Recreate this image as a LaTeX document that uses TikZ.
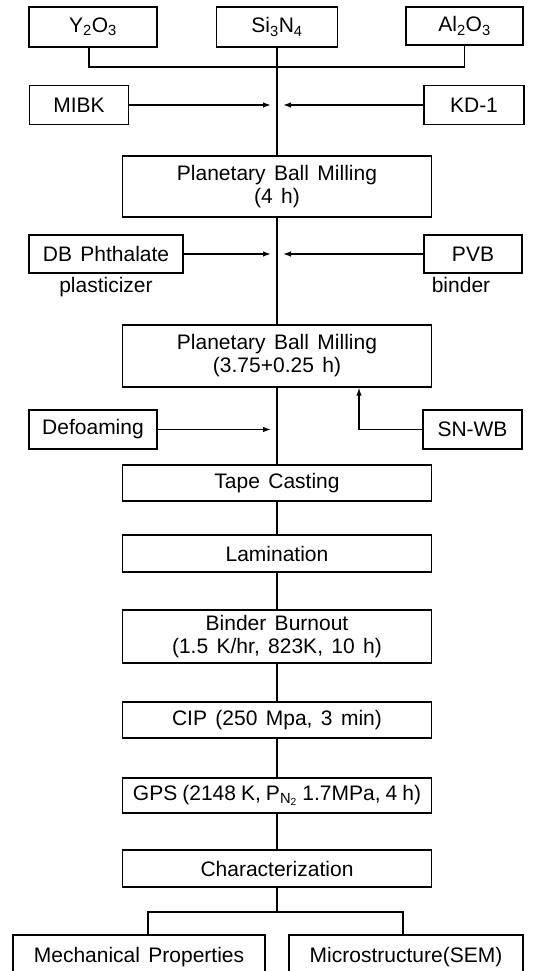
\documentclass[tikz,border=0pt]{standalone}
\usepackage{fontspec}
\setmainfont{Liberation Sans}
\usetikzlibrary{arrows.meta}

\newcommand{\boxfont}{\fontsize{21}{23}\selectfont\spaceskip=0.4em\relax}

\tikzset{
  stepbox/.style={draw, line width=1.3pt, inner sep=0pt, align=center, font=\boxfont},
  note/.style={font=\boxfont},
  link/.style={line width=1.3pt},
  arr/.style={link, -{Latex[length=8pt,width=5.5pt]}},
}

\begin{document}
\begin{tikzpicture}[x=1pt,y=-1pt]
            \path[use as bounding box] (0,0) rectangle (559,971);
            \clip (0,0) rectangle (559,971);

            % Define nodes
            \node[stepbox, minimum width=128pt, minimum height=40pt] (y2o3) at (93,27) {Y\textsubscript{2}O\textsubscript{3}};
            \node[stepbox, minimum width=121pt, minimum height=40pt] (si3n4) at (277,27) {Si\textsubscript{3}N\textsubscript{4}};
            \node[stepbox, minimum width=117pt, minimum height=38pt] (al2o3) at (464.5,26) {Al\textsubscript{2}O\textsubscript{3}};
            \node[stepbox, minimum width=99pt, minimum height=39pt] (mibk) at (79,105) {MIBK};
            \node[stepbox, minimum width=100pt, minimum height=39pt] (kd1) at (474,105) {KD-1};
            \node[stepbox, minimum width=309pt, minimum height=61pt] (pbm1) at (277,186.5) {Planetary Ball Milling\\(4 h)};
            \node[stepbox, minimum width=154pt, minimum height=38pt,
                  label={[note]below:plasticizer}] (dbp) at (106,254) {DB Phthalate};
            \node[stepbox, minimum width=98pt, minimum height=38pt,
                  label={[note, xshift=-12pt]below:binder}] (pvb) at (473,254) {PVB};
            \node[stepbox, minimum width=309pt, minimum height=62pt] (pbm2) at (277,356) {Planetary Ball Milling\\(3.75+0.25 h)};
            \node[stepbox, minimum width=128pt, minimum height=39pt] (defo) at (93,429.5) {Defoaming};
            \node[stepbox, minimum width=99pt, minimum height=39pt] (snwb) at (472.5,429.5) {SN-WB};
            \node[stepbox, minimum width=309pt, minimum height=36pt] (tape) at (277,483) {Tape Casting};
            \node[stepbox, minimum width=309pt, minimum height=37pt] (lam) at (277,553.5) {Lamination};
            \node[stepbox, minimum width=309pt, minimum height=53pt] (burn) at (277,636.5) {Binder Burnout\\(1.5 K/hr, 823K, 10 h)};
            \node[stepbox, minimum width=309pt, minimum height=36pt] (cip) at (277,720) {CIP (250 Mpa, 3 min)};
            \node[stepbox, minimum width=309pt, minimum height=35pt] (gps) at (277,795.5) {\spaceskip=0.24em\relax GPS (2148 K, P\textsubscript{N\textsubscript{2}} 1.7MPa, 4 h)};
            \node[stepbox, minimum width=309pt, minimum height=37pt] (char) at (277,868.5) {Characterization};
            \node[stepbox, minimum width=252pt, minimum height=44pt] (mech) at (139,957) {Mechanical Properties};
            \node[stepbox, minimum width=234pt, minimum height=44pt] (micro) at (406,957) {Microstructure(SEM)};

            \coordinate (mix) at (277,67);
            \coordinate (mibkin) at (271,105);
            \coordinate (kd1in) at (283,105);
            \coordinate (dbpin) at (271,254);
            \coordinate (pvbin) at (283,254);
            \coordinate (defoin) at (271,429.5);
            \coordinate (split) at (277,912);

            % Draw edges
            \draw[link] ([xshift=-4pt]y2o3.south) |- (mix) -| (al2o3.south);
            \draw[link] (si3n4) -- (pbm1);
            \draw[arr] (mibk) -- (mibkin);
            \draw[arr] (kd1) -- (kd1in);
            \draw[link] (pbm1) -- (pbm2);
            \draw[arr] (dbp) -- (dbpin);
            \draw[arr] (pvb) -- (pvbin);
            \draw[link] (pbm2) -- (tape);
            \draw[arr] (defo) -- (defoin);
            \draw[arr] (snwb.west) -| ([xshift=82pt]pbm2.south);
            \draw[link] (tape) -- (lam);
            \draw[link] (lam) -- (burn);
            \draw[link] (burn) -- (cip);
            \draw[link] (cip) -- (gps);
            \draw[link] (gps) -- (char);
            \draw[link] (char) -- (split);
            \draw[link] ([xshift=9pt]mech.north) |- (split) -| ([xshift=-3pt]micro.north);

        \end{tikzpicture}
\end{document}
